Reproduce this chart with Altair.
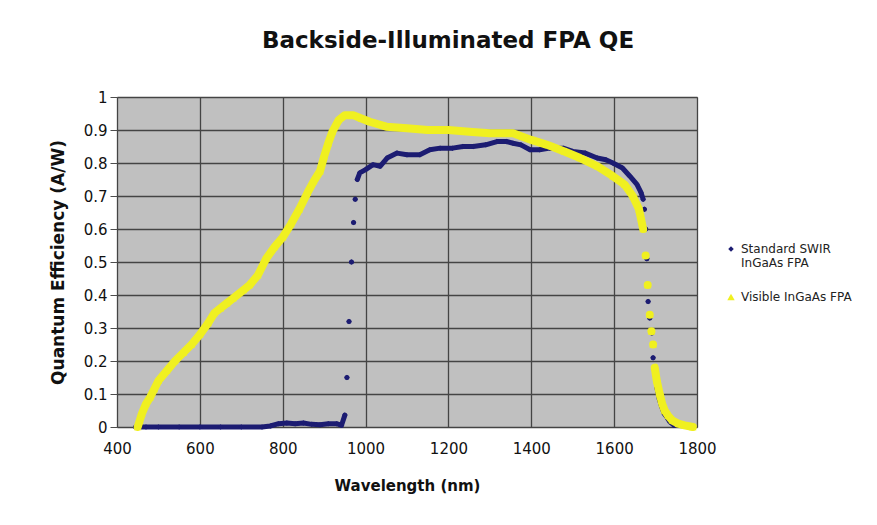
import altair as alt
import pandas as pd

# ---- data ----
series_names = ["Standard SWIR InGaAs FPA", "Visible InGaAs FPA"]

swir_nm = [445, 470, 500, 550, 600, 650, 700, 750, 770, 790, 810, 830, 850, 870, 890, 910, 930, 942,
           950, 955, 960, 966, 971, 975, 980,
           986, 1000, 1018, 1035, 1052, 1076, 1100, 1131, 1155, 1180, 1210, 1235, 1260, 1290, 1317,
           1340, 1356, 1375, 1397, 1420, 1445, 1477, 1500, 1530, 1559, 1580, 1597, 1620, 1638,
           1655, 1665, 1670,
           1673, 1676, 1679, 1682, 1686, 1691, 1694, 1698, 1703, 1709, 1715, 1721, 1727, 1735, 1745]
swir_qe = [0.0, 0.0, 0.0, 0.0, 0.0, 0.0, 0.0, 0.0, 0.003, 0.01, 0.012, 0.01, 0.012, 0.008, 0.007, 0.01, 0.01, 0.005,
           0.036, 0.15, 0.32, 0.50, 0.62, 0.69, 0.75,
           0.77, 0.78, 0.795, 0.79, 0.815, 0.83, 0.825, 0.825, 0.84, 0.845, 0.845, 0.85, 0.85, 0.855, 0.865,
           0.865, 0.86, 0.855, 0.84, 0.84, 0.845, 0.845, 0.835, 0.83, 0.815, 0.81, 0.80, 0.785, 0.76,
           0.735, 0.71, 0.69,
           0.66, 0.60, 0.51, 0.38, 0.33, 0.285, 0.21, 0.16, 0.12, 0.085, 0.06, 0.04, 0.03, 0.015, 0.005]

vis_nm = [450, 455, 460, 470, 480, 490, 500, 520, 540, 560, 580, 600, 620, 635, 650, 665, 680, 705, 720,
          740, 760, 780, 800, 820, 840, 860, 875, 890, 900, 910, 920, 935, 950, 970, 990, 1010, 1050,
          1100, 1150, 1200, 1250, 1300, 1356, 1400, 1438, 1480, 1518, 1560, 1597, 1625, 1645, 1660, 1670,
          1676, 1681, 1686, 1690, 1694, 1698, 1703, 1710, 1716, 1722, 1730, 1740, 1755, 1770, 1790]
vis_qe = [0.0, 0.02, 0.04, 0.07, 0.09, 0.115, 0.14, 0.17, 0.20, 0.225, 0.25, 0.28, 0.315, 0.345, 0.36,
          0.375, 0.39, 0.415, 0.43, 0.46, 0.51, 0.545, 0.575, 0.615, 0.66, 0.71, 0.745, 0.775, 0.82,
          0.86, 0.895, 0.93, 0.945, 0.945, 0.935, 0.925, 0.91, 0.905, 0.90, 0.90, 0.895, 0.89, 0.89,
          0.87, 0.855, 0.835, 0.815, 0.79, 0.76, 0.735, 0.70, 0.66, 0.60,
          0.52, 0.43, 0.34, 0.29, 0.25, 0.18, 0.14, 0.10, 0.07, 0.05, 0.035, 0.02, 0.01, 0.005, 0.0]

x_ticks = [400, 600, 800, 1000, 1200, 1400, 1600, 1800]
y_ticks = [0, 0.1, 0.2, 0.3, 0.4, 0.5, 0.6, 0.7, 0.8, 0.9, 1]

colors = ["#1c1c72", "#f0f020"]


def build(name, nm, qe):
    d = pd.DataFrame({"wavelength": nm, "qe": qe})
    slope = (d["qe"].diff().abs() / d["wavelength"].diff()).fillna(0)
    d["segment"] = (slope > 0.008).cumsum()
    d["series"] = name
    return d


df = pd.concat([build(series_names[0], swir_nm, swir_qe),
                build(series_names[1], vis_nm, vis_qe)], ignore_index=True)
df["order"] = range(len(df))

x_enc = alt.X("wavelength:Q",
              scale=alt.Scale(domain=[400, 1800], nice=False, zero=False),
              axis=alt.Axis(values=x_ticks, format="d", title="Wavelength (nm)",
                            ticks=False, labelFlush=False, labelPadding=14, titlePadding=22))
y_enc = alt.Y("qe:Q",
              scale=alt.Scale(domain=[0, 1], nice=False),
              axis=alt.Axis(values=y_ticks, format=".1~f",
                            title="Quantum Efficiency (A/W)", labelFlush=False,
                            titleFontSize=17,
                            ticks=True, tickSize=7, tickColor="#4d4d4d",
                            labelPadding=3, titlePadding=16))

base = alt.Chart(df)


def line_layer(name, color, width):
    return base.transform_filter(alt.datum.series == name).mark_line(
        color=color, strokeWidth=width, strokeCap="round", strokeJoin="round"
    ).encode(x=x_enc, y=y_enc, detail="segment:N", order="order:Q")


legend = alt.Legend(title=None, orient="none", legendX=608, legendY=146,
                    labelFont="DejaVu Sans", labelFontSize=12,
                    labelColor="#222", symbolSize=45, rowPadding=22,
                    labelLimit=200,
                    labelExpr="datum.label == 'Standard SWIR InGaAs FPA' ? ['Standard SWIR', 'InGaAs FPA'] : datum.label")

points = base.mark_point(filled=True, opacity=1, strokeWidth=0).encode(
    x=x_enc, y=y_enc,
    color=alt.Color("series:N", scale=alt.Scale(domain=series_names, range=colors), legend=legend),
    shape=alt.Shape("series:N", scale=alt.Scale(domain=series_names, range=["diamond", "triangle-up"]),
                    legend=legend),
    size=alt.Size("series:N", scale=alt.Scale(domain=series_names, range=[30, 55]), legend=None),
    order="order:Q",
)

chart = alt.layer(
    line_layer(series_names[0], colors[0], 5),
    points,
    line_layer(series_names[1], colors[1], 8),
).properties(
    width=580, height=330,
    background="white",
    title=alt.TitleParams("Backside-Illuminated FPA QE", font="DejaVu Sans", fontSize=23,
                          fontWeight="bold", anchor="middle", dx=41, offset=37, color="#111"),
    autosize=alt.AutoSizeParams(type="none"),
    padding={"left": 109, "top": 89, "right": 160, "bottom": 80},
).configure_view(
    fill="#c0c0c0", stroke="#808080", strokeWidth=1
).configure_axis(
    labelFont="DejaVu Sans", labelFontSize=15, labelColor="#111",
    titleFont="DejaVu Sans", titleFontSize=15, titleFontWeight="bold", titleColor="#111",
    grid=True, gridColor="#444444", gridWidth=1.3, gridOpacity=1, domain=False,
)

chart.save("out.html", embed_options={"renderer": "svg", "actions": False})
